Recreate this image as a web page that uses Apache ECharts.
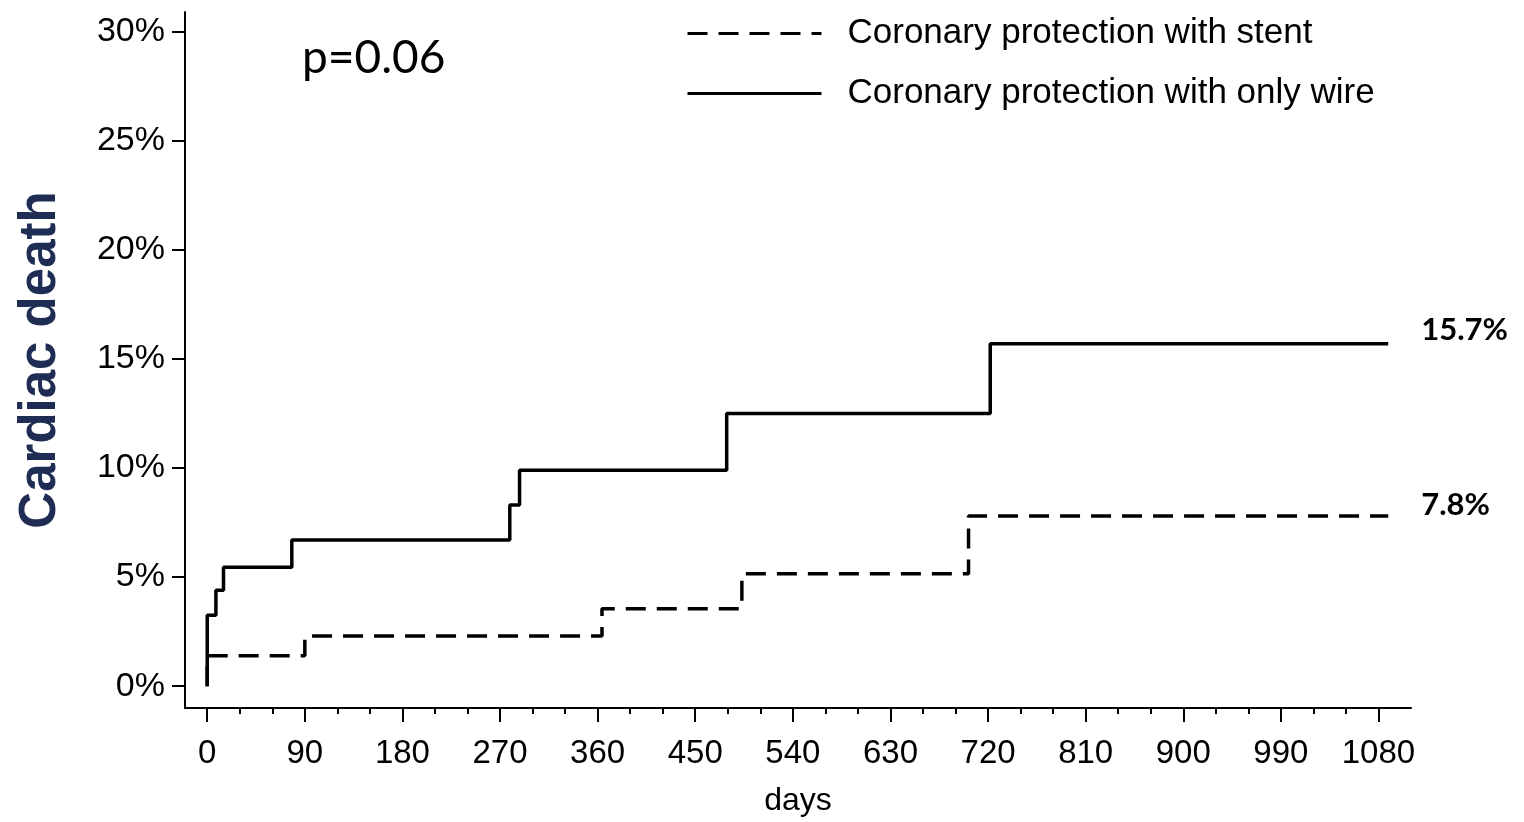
<!DOCTYPE html>
<html>
<head>
<meta charset="utf-8">
<script src="https://cdn.jsdelivr.net/npm/echarts@6/dist/echarts.min.js"></script>
<style>
  html, body { margin: 0; padding: 0; background: #fff; }
  #chart { width: 1524px; height: 822px; }
</style>
</head>
<body>
<div id="chart"></div>
<script>
// Kaplan-Meier style cumulative cardiac death (%)
const wireName = 'Coronary protection with only wire';
const stentName = 'Coronary protection with stent';
const wireDays = [0, 0, 8, 15, 78, 279, 288, 479, 722, 1089];
const wireRisk = [0, 3.25, 4.4, 5.45, 6.7, 8.3, 9.9, 12.5, 15.7, 15.7];
const stentDays = [0, 0, 90, 364, 493, 702, 1089];
const stentRisk = [0, 1.4, 2.3, 3.55, 5.15, 7.8, 7.8];
const xTicks = [0, 90, 180, 270, 360, 450, 540, 630, 720, 810, 900, 990, 1080];
const xMinorTicks = [30, 60, 120, 150, 210, 240, 300, 330, 390, 420, 480, 510, 570, 600,
  660, 690, 750, 780, 840, 870, 930, 960, 1020, 1050];
const yTicks = [0, 5, 10, 15, 20, 25, 30];
const pText = 'p=0.06';

const arial = 'Liberation Sans, Arial, sans-serif';

function pairs(xs, ys) {
  return xs.map((x, i) => [x, ys[i]]);
}

const chart = echarts.init(document.getElementById('chart'));

const option = {
  backgroundColor: '#fff',
  animation: false,
  title: {
    text: pText,
    left: 297,
    top: 30,
    textStyle: { fontFamily: 'Lato, sans-serif', fontSize: 46, fontWeight: 'normal', color: '#000' }
  },
  legend: {
    orient: 'vertical',
    left: 681,
    top: 11,
    itemWidth: 134,
    itemHeight: 32,
    itemGap: 25,
    data: [stentName, wireName],
    lineStyle: { width: 3 },
    itemStyle: { color: 'transparent', borderWidth: 0, opacity: 0 },
    textStyle: { fontFamily: arial, fontSize: 35, color: '#000', padding: [0, 0, 0, 21] }
  },
  grid: { left: 185, right: 113, top: 12, bottom: 113 },
  xAxis: [
    {
      type: 'value',
      min: -20.5,
      max: 1110,
      name: 'days',
      nameLocation: 'middle',
      nameGap: 77,
      nameTextStyle: { fontFamily: arial, fontSize: 32, color: '#000' },
      axisLine: { show: true, onZero: false, lineStyle: { color: '#000', width: 2 } },
      axisTick: { show: true, customValues: xTicks, length: 14, lineStyle: { color: '#000', width: 2 } },
      axisLabel: {
        customValues: xTicks,
        margin: 29,
        formatter: v => String(v),
        fontFamily: arial, fontSize: 33, color: '#000'
      },
      splitLine: { show: false }
    },
    {
      type: 'value',
      min: -20.5,
      max: 1110,
      position: 'bottom',
      axisLine: { show: false, onZero: false },
      axisTick: { show: true, customValues: xMinorTicks, length: 6, lineStyle: { color: '#000', width: 2 } },
      axisLabel: { show: false },
      splitLine: { show: false }
    }
  ],
  yAxis: {
    type: 'value',
    min: -1,
    max: 30.9,
    name: 'Cardiac death',
    nameLocation: 'middle',
    nameRotate: 90,
    nameGap: 119,
    nameTextStyle: { fontFamily: arial, fontSize: 51, fontWeight: 'bold', color: '#1f2d54' },
    axisLine: { show: true, onZero: false, lineStyle: { color: '#000', width: 2 } },
    axisTick: { show: true, customValues: yTicks, length: 13, lineStyle: { color: '#000', width: 2 } },
    axisLabel: {
      customValues: yTicks,
      margin: 20,
      formatter: v => v + '%',
      fontFamily: arial, fontSize: 34, color: '#000'
    },
    splitLine: { show: false }
  },
  series: [
    {
      name: stentName,
      type: 'line',
      step: 'end',
      symbol: 'none',
      data: pairs(stentDays, stentRisk),
      lineStyle: { color: '#000', width: 3.5, type: [20, 11] },
      itemStyle: { color: '#000' },
      endLabel: {
        show: true,
        distance: 33,
        offset: [0, -11],
        formatter: p => p.value[1].toFixed(1) + '%',
        fontFamily: 'Lato, sans-serif', fontSize: 31, fontWeight: 'bold', color: '#000'
      }
    },
    {
      name: wireName,
      type: 'line',
      step: 'end',
      symbol: 'none',
      data: pairs(wireDays, wireRisk),
      lineStyle: { color: '#000', width: 3.5 },
      itemStyle: { color: '#000' },
      endLabel: {
        show: true,
        distance: 33,
        offset: [0, -14],
        formatter: p => p.value[1].toFixed(1) + '%',
        fontFamily: 'Lato, sans-serif', fontSize: 31, fontWeight: 'bold', color: '#000'
      }
    }
  ]
};

chart.setOption(option);
</script>
</body>
</html>
